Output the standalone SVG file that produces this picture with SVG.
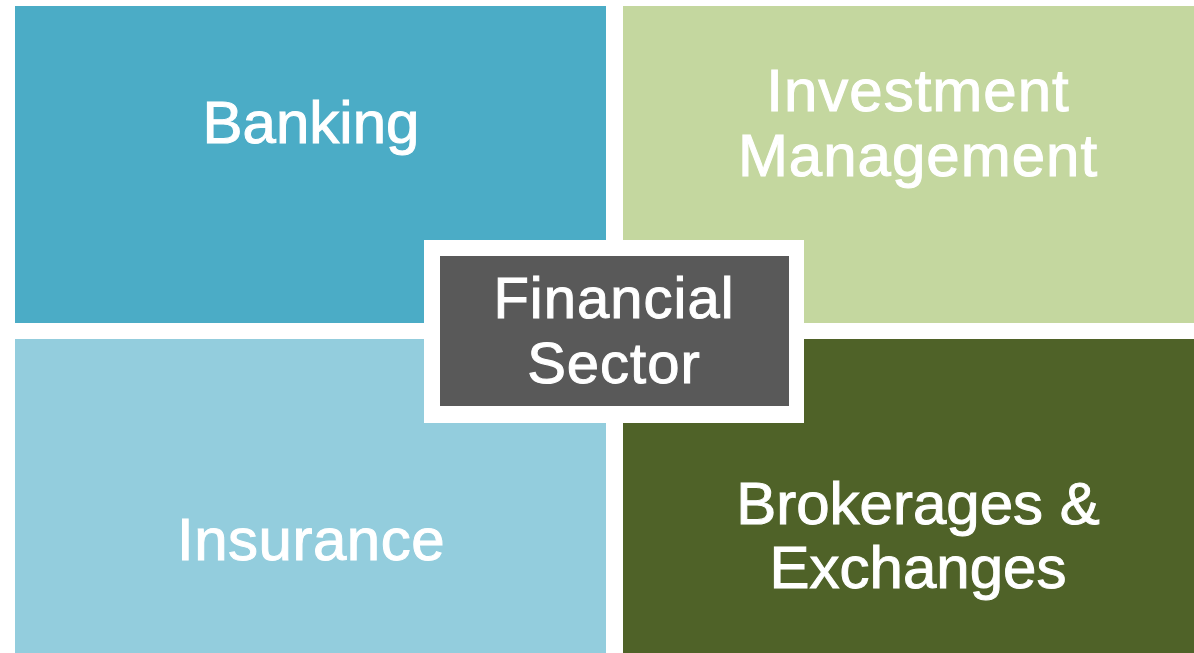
<svg xmlns="http://www.w3.org/2000/svg" width="1194" height="653" viewBox="0 0 1194 653">
<style>
.t{font-family:"Liberation Sans",Arial,sans-serif;font-size:60px;fill:#ffffff;stroke:#ffffff;stroke-width:1;text-anchor:middle}
</style>
<rect x="0" y="0" width="1194" height="653" fill="#ffffff"/>
<g id="banking">
<rect x="15" y="6" width="591" height="317" fill="#4BACC6"/>
<text class="t" x="311" y="143">Banking</text>
</g>
<g id="investment">
<rect x="623" y="6" width="571" height="317" fill="#C4D79F"/>
<text class="t" x="918" y="111" style="letter-spacing:1px">Investment</text>
<text class="t" x="918" y="176" style="letter-spacing:1px">Management</text>
</g>
<g id="insurance">
<rect x="15" y="339" width="591" height="314" fill="#93CDDD"/>
<text class="t" x="311" y="560" style="letter-spacing:0.5px">Insurance</text>
</g>
<g id="brokerages">
<rect x="623" y="339" width="571" height="314" fill="#4F6228"/>
<text class="t" x="918" y="524">Brokerages &amp;</text>
<text class="t" x="918" y="588">Exchanges</text>
</g>
<g id="financial-sector">
<rect x="424" y="240" width="380" height="183" fill="#ffffff"/>
<rect x="440" y="256" width="349" height="150" fill="#595959"/>
<text class="t" x="614" y="318" style="font-size:58px;letter-spacing:1px">Financial</text>
<text class="t" x="614" y="383" style="font-size:58px;letter-spacing:1px">Sector</text>
</g>
<g id="connectors"></g>
</svg>
